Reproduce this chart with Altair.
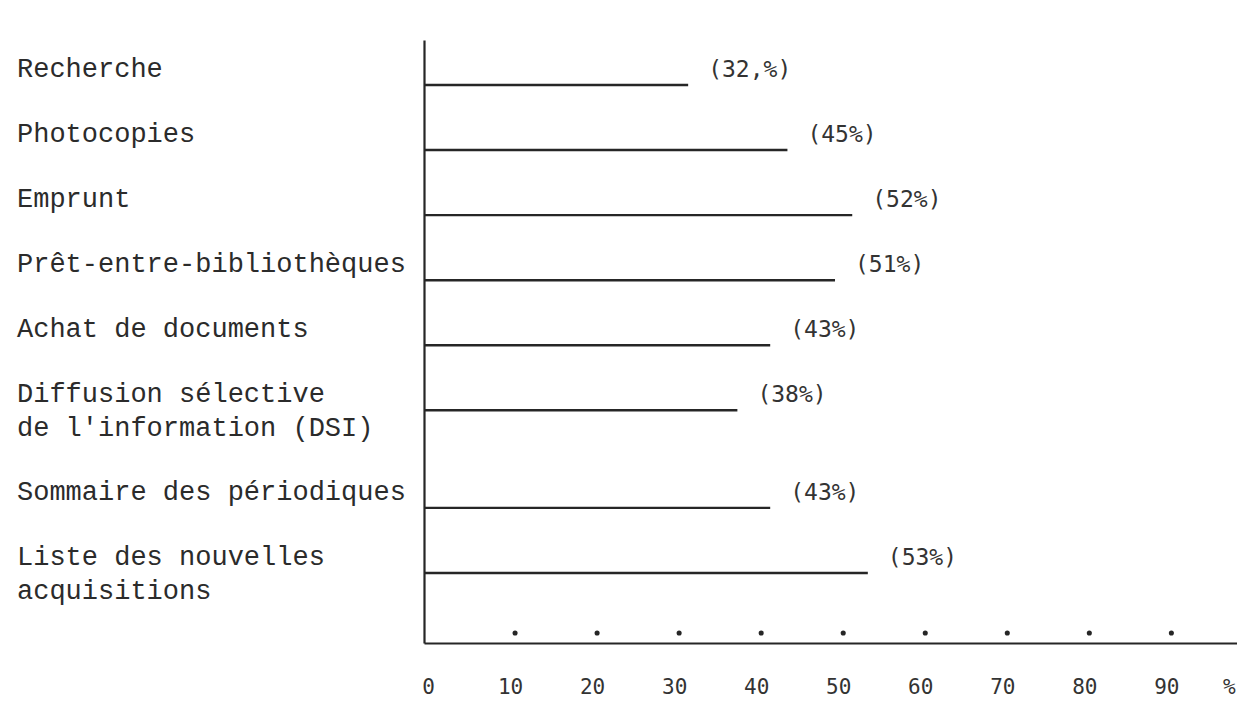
import altair as alt
import pandas as pd

# ---- data ----
categories = [
    "Recherche",
    "Photocopies",
    "Emprunt",
    "Prêt-entre-bibliothèques",
    "Achat de documents",
    "Diffusion sélective\nde l'information (DSI)",
    "Sommaire des périodiques",
    "Liste des nouvelles\nacquisitions",
]
value_labels = ["(32,%)", "(45%)", "(52%)", "(51%)", "(43%)", "(38%)", "(43%)", "(53%)"]
# drawn length of each bar, read against the dotted % scale
bar_lengths = [31.1, 43.2, 51.1, 49.0, 41.1, 37.1, 41.1, 53.0]
tick_values = [0, 10, 20, 30, 40, 50, 60, 70, 80, 90]
unit_label = "%"
unit_tick = 97.6

# typewriter layout: each item takes its own text lines plus one blank line
rows = []
line = 0
for cat, lab, ln in zip(categories, value_labels, bar_lengths):
    rows.append({"category": cat, "label": lab, "length": ln, "line": line})
    line += 1 + cat.count("\n") + 1
df = pd.DataFrame(rows)
dots = pd.DataFrame({"v": tick_values[1:]})

ink = "#262626"
xscale = alt.Scale(domain=[-1.1, 98.0], nice=False, zero=False)
yscale = alt.Scale(domain=[-1.383, 17.153], reverse=True, nice=False, zero=False)

xaxis = alt.Axis(
    values=tick_values + [unit_tick],
    labelExpr=f"datum.value == {unit_tick} ? '{unit_label}' : datum.label",
    title=None, grid=False, ticks=False,
    domainColor=ink, domainWidth=2.2,
    labelFont="DejaVu Sans Mono", labelFontSize=21, labelColor="#333333",
    labelBaseline="middle", labelPadding=44, labelOffset=-5,
    labelOverlap=False, labelFlush=False, labelBound=False,
)
yaxis = alt.Axis(title=None, labels=False, ticks=False, grid=False,
                 domainColor=ink, domainWidth=2.2)

base = alt.Chart(df)

bars = base.mark_rule(color=ink, strokeWidth=2.4).encode(
    x=alt.X("length:Q", scale=xscale, axis=xaxis),
    x2=alt.value(0),
    y=alt.Y("line:Q", scale=yscale, axis=yaxis),
)

value_text = base.mark_text(
    align="left", baseline="middle", dx=20, dy=-15,
    font="DejaVu Sans Mono", fontSize=23, color="#333333",
).encode(
    x=alt.X("length:Q", scale=xscale),
    y=alt.Y("line:Q", scale=yscale),
    text="label:N",
)

cat_text = base.mark_text(
    align="left", baseline="alphabetic", dy=-8, lineBreak="\n", lineHeight=34,
    font="Liberation Mono", fontSize=27, color="#2b2b2b",
).encode(
    x=alt.value(-407),
    y=alt.Y("line:Q", scale=yscale),
    text="category:N",
)

dot_layer = alt.Chart(dots).mark_circle(size=26, color=ink, opacity=1).encode(
    x=alt.X("v:Q", scale=xscale),
    y=alt.value(593),
)

chart = alt.layer(bars, dot_layer, value_text, cat_text).properties(
    width=813, height=603,
    autosize=alt.AutoSizeParams(type="none"),
    padding={"left": 416, "top": 32, "right": 0, "bottom": 55},
    background="white",
).configure_view(stroke=None)

chart.save("out.html", embed_options={"renderer": "svg", "actions": False})
